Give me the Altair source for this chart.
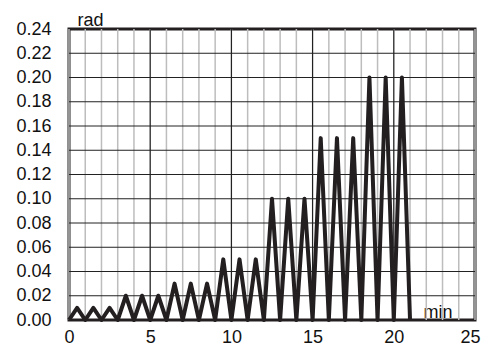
import altair as alt
import pandas as pd

# zigzag data: zeros at whole minutes, peaks at half minutes
t_zero = list(range(0, 22))
t_peak = [i + 0.5 for i in range(0, 21)]
peak_vals = [0.01, 0.01, 0.01, 0.02, 0.02, 0.02, 0.03, 0.03, 0.03,
             0.05, 0.05, 0.05, 0.10, 0.10, 0.10, 0.15, 0.15, 0.15,
             0.20, 0.20, 0.20]

x_ticks = [0, 5, 10, 15, 20, 25]
y_ticks = [0.0, 0.02, 0.04, 0.06, 0.08, 0.10, 0.12, 0.14, 0.16, 0.18, 0.20, 0.22, 0.24]
minor_x = list(range(0, 26))
major_x = [5, 10, 15, 20]
hgrid = [0.02, 0.04, 0.06, 0.08, 0.10, 0.12, 0.14, 0.16, 0.18, 0.20, 0.22]

rows = []
for i, t in enumerate(t_zero):
    rows.append({"t": t, "v": 0.0})
    if i < len(t_peak):
        rows.append({"t": t_peak[i], "v": peak_vals[i]})
df = pd.DataFrame(rows).sort_values("t")

FONT = "Liberation Sans"
xs = alt.Scale(domain=[0, 25], nice=False, zero=False)
ys = alt.Scale(domain=[0, 0.24], nice=False)

x_axis = alt.Axis(values=x_ticks, grid=False, ticks=False, domain=False,
                  labelFont=FONT, labelFontSize=18, labelColor="#111",
                  labelFlush=True, labelFlushOffset=5, labelOverlap=False,
                  labelPadding=8, title="min", titleFont=FONT, titleFontSize=18,
                  titleFontWeight="normal", titleColor="#111",
                  titleX=354, titleY=-3, titleAlign="left",
                  titleBaseline="alphabetic", titleAnchor="start")
y_axis = alt.Axis(values=y_ticks, format=".2f", grid=False, ticks=False, domain=False,
                  labelFont=FONT, labelFontSize=18, labelColor="#111",
                  labelFlush=False, labelOverlap=False, labelBound=False,
                  labelPadding=18, title="rad", titleFont=FONT, titleFontSize=18,
                  titleFontWeight="normal", titleColor="#111", titleAngle=0,
                  titleX=8, titleY=-4, titleAlign="left",
                  titleBaseline="alphabetic")

minor = alt.Chart(pd.DataFrame({"t": minor_x})).mark_rule(color="#bdbdbd", strokeWidth=1.5).encode(
    x=alt.X("t:Q", scale=xs, axis=x_axis)
)
major = alt.Chart(pd.DataFrame({"t": major_x})).mark_rule(color="#111", strokeWidth=1).encode(
    x=alt.X("t:Q", scale=xs, axis=x_axis)
)
horiz = alt.Chart(pd.DataFrame({"v": hgrid})).mark_rule(color="#222", strokeWidth=1).encode(
    y=alt.Y("v:Q", scale=ys, axis=y_axis)
)
line = alt.Chart(df).mark_line(color="#231f20", strokeWidth=4, strokeJoin="round").encode(
    x=alt.X("t:Q", scale=xs, axis=x_axis),
    y=alt.Y("v:Q", scale=ys, axis=y_axis),
)

chart = alt.layer(minor, major, horiz, line).properties(
    width=406, height=291,
    autosize=alt.AutoSizeParams(type="none"),
    padding={"left": 61, "top": 21, "right": 6, "bottom": 28},
).configure_view(stroke="#231f20", strokeWidth=3).configure_axis(labelOverlap=False)

chart.save("out.html", embed_options={"renderer": "svg", "actions": False})
